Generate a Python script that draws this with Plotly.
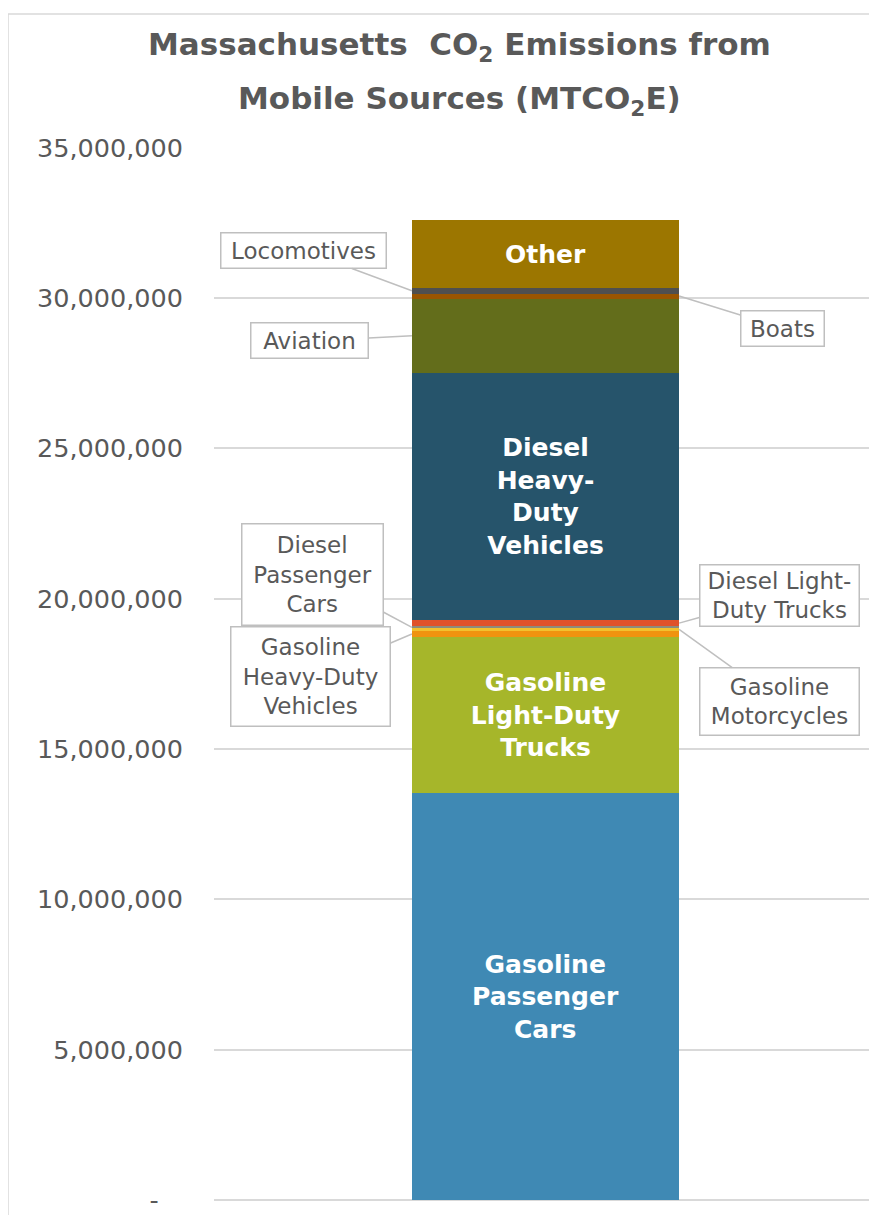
import plotly.graph_objects as go

# data (MTCO2E), bottom of stack first
sources = [
    "Gasoline Passenger Cars",
    "Gasoline Light-Duty Trucks",
    "Gasoline Heavy-Duty Vehicles",
    "Gasoline Motorcycles",
    "Diesel Passenger Cars",
    "Diesel Light-Duty Trucks",
    "Diesel Heavy-Duty Vehicles",
    "Aviation",
    "Boats",
    "Locomotives",
    "Other",
]
emissions = [
    13530000, 5180000, 230000, 70000, 70000, 210000,
    8210000, 2480000, 165000, 190000, 2250000,
]
bar_labels = [
    "Gasoline<br>Passenger<br>Cars", "Gasoline<br>Light-Duty<br>Trucks", "", "", "", "",
    "Diesel<br>Heavy-<br>Duty<br>Vehicles", "", "", "", "Other",
]
colors = [
    "#3F89B4", "#A6B62A", "#F0930F", "#F2C12E", "#8C8C7C", "#E0522A",
    "#26546B", "#636D1B", "#9A5500", "#4F4F4F", "#9C7600",
]
tick_vals = [0, 5e6, 10e6, 15e6, 20e6, 25e6, 30e6, 35e6]
tick_text = ["-\u00a0\u00a0\u00a0", "5,000,000", "10,000,000", "15,000,000", "20,000,000",
             "25,000,000", "30,000,000", "35,000,000"]

FONT = "DejaVu Sans"
GREY = "#595959"
BAR_W = 0.403

# the page adds an 8px body margin, so figure px = page px - 8
W, H = 869, 1215
L, T, PW, PH = 206, 139, 663, 1053

fig = go.Figure()
for name, val, lab, col in zip(sources, emissions, bar_labels, colors):
    fig.add_trace(
        go.Bar(
            x=[0],
            y=[val],
            width=BAR_W,
            name=name,
            marker=dict(color=col, line=dict(width=0)),
            text=["<b>" + lab + "</b>"] if lab else None,
            textposition="inside",
            insidetextanchor="middle",
            textangle=0,
            constraintext="none",
            insidetextfont=dict(family=FONT, size=25, color="white"),
            showlegend=False,
        )
    )

# centre of each stacked segment, for the callouts
centres = {}
base = 0
for name, val in zip(sources, emissions):
    centres[name] = base + val / 2
    base += val

# callouts: (name, side, ax, ay, width, height, text)
callouts = [
    ("Locomotives", -1, -108, -40, 160, 30, "Locomotives"),
    ("Boats", 1, 103, 32, 78, 30, "Boats"),
    ("Aviation", -1, -102, 5, 112, 30, "Aviation"),
    ("Diesel Passenger Cars", -1, -99, -53, 136, 96, "Diesel<br>Passenger<br>Cars"),
    ("Gasoline Heavy-Duty Vehicles", -1, -101, 43, 154, 94, "Gasoline<br>Heavy-Duty<br>Vehicles"),
    ("Diesel Light-Duty Trucks", 1, 100, -28, 154, 56, "Diesel Light-<br>Duty Trucks"),
    ("Gasoline Motorcycles", 1, 100, 72, 154, 62, "Gasoline<br>Motorcycles"),
]
for name, side, ax, ay, w, h, txt in callouts:
    fig.add_annotation(
        x=side * BAR_W / 2,
        y=centres[name],
        ax=ax,
        ay=ay,
        text=txt,
        showarrow=True,
        arrowhead=0,
        arrowwidth=1.5,
        arrowcolor="#BFBFBF",
        standoff=0,
        width=w,
        height=h,
        align="center",
        bgcolor="white",
        bordercolor="#BFBFBF",
        borderwidth=1.5,
        borderpad=2,
        font=dict(family=FONT, size=23, color=GREY),
    )

# two-line title
for line, py in [("<b>Massachusetts  CO<sub>2</sub> Emissions from</b>", 38),
                 ("<b>Mobile Sources (MTCO<sub>2</sub>E)</b>", 92)]:
    fig.add_annotation(
        xref="paper", yref="paper",
        x=(451 - L) / PW, y=(T + PH - py) / PH,
        text=line, showarrow=False,
        xanchor="center", yanchor="middle",
        font=dict(family=FONT, size=31, color=GREY),
    )

# chart frame (left and top edges visible)
fx = (0 - L) / PW
fy = (T + PH - 6) / PH
fig.add_shape(type="path", xref="paper", yref="paper",
              path=f"M {fx} -0.03 L {fx} {fy} L 1.05 {fy}",
              line=dict(color="#D9D9D9", width=1.5))

fig.update_layout(
    width=W,
    height=H,
    barmode="stack",
    margin=dict(l=L, r=W - L - PW, t=T, b=H - T - PH),
    paper_bgcolor="white",
    plot_bgcolor="white",
    font=dict(family=FONT, color=GREY),
    xaxis=dict(range=[-0.5, 0.5], showticklabels=False, showgrid=False,
               zeroline=False, fixedrange=True),
    yaxis=dict(
        range=[0, 35.02e6],
        tickvals=tick_vals,
        ticktext=tick_text,
        showgrid=True,
        gridcolor="#D9D9D9",
        gridwidth=1.5,
        zeroline=True,
        zerolinecolor="#D9D9D9",
        zerolinewidth=1.5,
        ticks="",
        ticklabelstandoff=30,
        ticklabeloverflow="allow",
        tickfont=dict(family=FONT, size=25.5, color=GREY),
    ),
)

fig.write_html("out.html")
